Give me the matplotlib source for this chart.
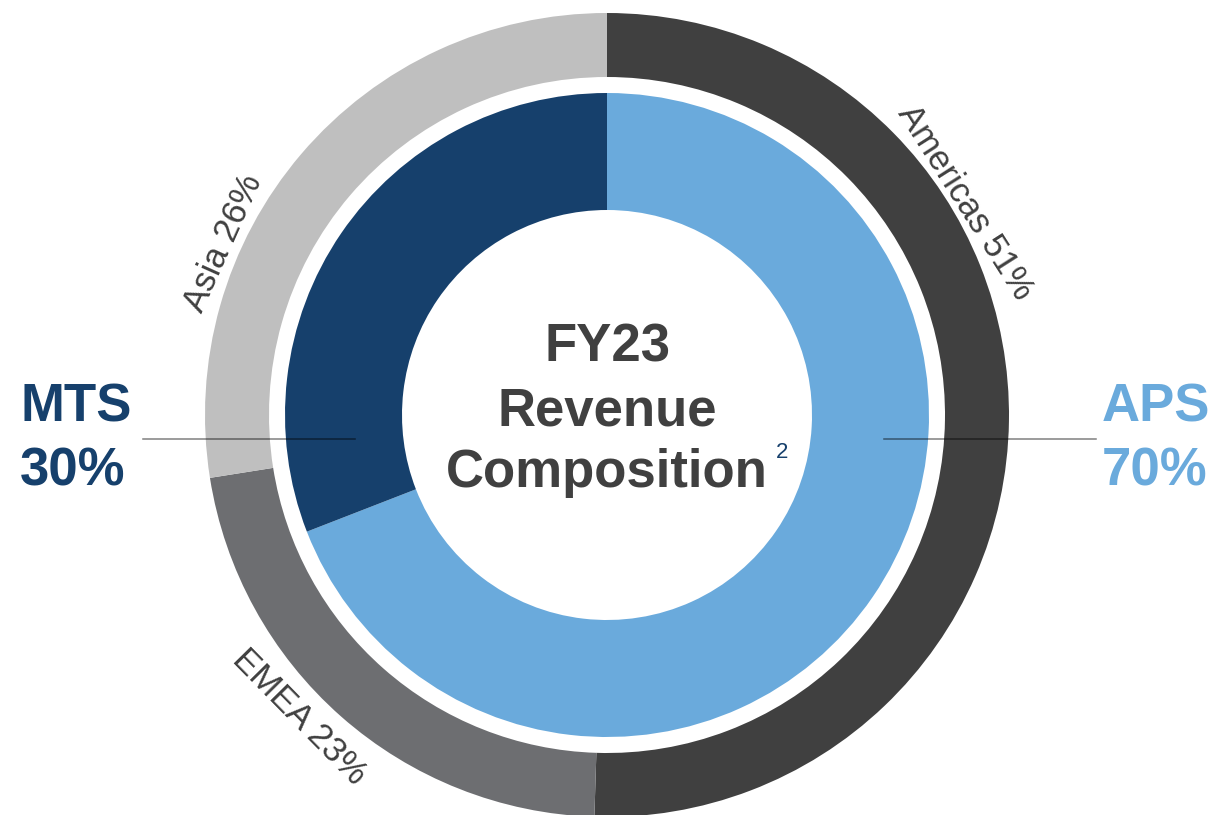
import matplotlib.pyplot as plt
import numpy as np

plt.rcParams["font.family"] = ["Liberation Sans", "DejaVu Sans"]

# outer ring: regions, clockwise from 12 o'clock
region_names = ["Americas", "EMEA", "Asia"]
region_labels = [51, 23, 26]            # percentages as printed
region_arcs = [50.5, 22.0, 27.5]        # arc sizes as drawn in the picture
region_colors = ["#404040", "#6d6e71", "#bfbfbf"]

# inner ring: segments, clockwise from 12 o'clock
segment_names = ["APS", "MTS"]
segment_labels = [70, 30]
segment_arcs = [69.1, 30.9]
segment_colors = ["#6aaadc", "#16406c"]

TEXT_DARK = "#404040"

# pixel geometry of the reference (centre and outer radius), used for the layout
W, H = 1213, 815
CX, CY, R_PX = 607, 415, 402


def px(x, y):
    """pixel position -> data units (outer radius = 1)"""
    return (x - CX) / R_PX, (CY - y) / R_PX


def polar(theta_cw, r):
    t = np.deg2rad(theta_cw)
    return r * np.sin(t), r * np.cos(t)


fig = plt.figure(figsize=(W / 100, H / 100), dpi=100)
fig.patch.set_facecolor("white")
ax = fig.add_axes([0, 0, 1, 1])

ax.pie(region_arcs, radius=1.0, startangle=90, counterclock=False,
       colors=region_colors, wedgeprops=dict(width=64 / R_PX, linewidth=0))
ax.pie(segment_arcs, radius=322 / R_PX, startangle=90, counterclock=False,
       colors=segment_colors, wedgeprops=dict(width=117 / R_PX, linewidth=0))

x0, y_top = px(0, 0)
x1, y_bot = px(W, H)
ax.set_xlim(x0, x1)
ax.set_ylim(y_bot, y_top)
ax.set_aspect("auto")
ax.axis("off")

# ring labels set along the tangent, just outside the outer ring
ring_labels = [
    (f"{region_names[0]} {region_labels[0]}%", 59.3, 1.035, -57.5),
    (f"{region_names[1]} {region_labels[1]}%", 225.5, 1.072, -45.5),
    (f"{region_names[2]} {region_labels[2]}%", 294.2, 1.045, 65.8),
]
for text, theta, r, rot in ring_labels:
    x, y = polar(theta, r)
    ax.text(x, y, text, rotation=rot, rotation_mode="anchor", ha="center",
            va="center", fontsize=25, color=TEXT_DARK)

# leader lines for the inner ring
line_y = px(0, 439)[1]
for xa, xb in [(143, 355), (884, 1096)]:
    ax.plot([px(xa, 0)[0], px(xb, 0)[0]], [line_y, line_y],
            color="black", alpha=0.5, linewidth=1.1, zorder=5)

# segment call-outs
for name, share, color, left in [
    (segment_names[1], segment_labels[1], segment_colors[1], 20),
    (segment_names[0], segment_labels[0], segment_colors[0], 1102),
]:
    x = px(left, 0)[0]
    ax.text(x, px(0, 422)[1], name, ha="left", va="baseline",
            fontsize=38, fontweight="bold", color=color)
    ax.text(x, px(0, 485)[1], f"{share}%", ha="left", va="baseline",
            fontsize=38, fontweight="bold", color=color)

# centre title
for line, base in [("FY23", 362), ("Revenue", 425), ("Composition", 487)]:
    ax.text(0, px(0, base)[1], line, ha="center", va="baseline",
            fontsize=38, fontweight="bold", color=TEXT_DARK)
sx, sy = px(776, 458)
ax.text(sx, sy, "2", ha="left", va="baseline", fontsize=16, color="#16406c")

fig.savefig("out.png", dpi=100)
